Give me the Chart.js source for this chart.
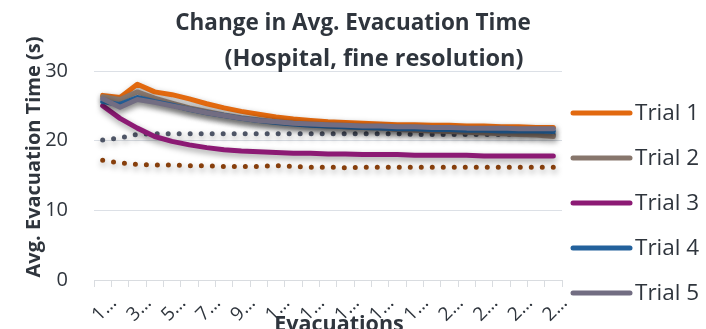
<!DOCTYPE html>
<html>
<head>
<meta charset="utf-8">
<script src="https://cdn.jsdelivr.net/npm/chart.js@4.4.1/dist/chart.umd.min.js"></script>
<style>
  html, body { margin: 0; padding: 0; background: #ffffff; }
  #wrap { width: 706px; height: 329px; position: relative; }
</style>
</head>
<body>
<div id="wrap"><canvas id="chart" width="706" height="329"></canvas></div>
<script>
// Evacuation number (x categories)
const categories = ['1','2','3','4','5','6','7','8','9','10','11','12','13','14',
                    '15','16','17','18','19','20','21','22','23','24','25','26','27'];

// Average evacuation time per evacuation, seconds
const trial1 = [26.5, 26.2, 28.1, 27.0, 26.6, 26.0, 25.3, 24.7, 24.2, 23.8, 23.4, 23.1, 22.9, 22.7,
                22.6, 22.5, 22.4, 22.3, 22.3, 22.2, 22.2, 22.1, 22.1, 22.0, 22.0, 21.9, 21.9];
const trial2 = [26.3, 25.9, 27.0, 26.1, 25.4, 24.7, 24.2, 23.7, 23.3, 23.0, 22.7, 22.5, 22.3, 22.1,
                22.0, 21.9, 21.8, 21.6, 21.5, 21.4, 21.3, 21.2, 21.1, 21.0, 20.9, 20.8, 20.6];
const trial3 = [25.0, 23.2, 21.8, 20.6, 19.9, 19.4, 19.0, 18.7, 18.5, 18.4, 18.3, 18.2, 18.2, 18.1,
                18.1, 18.0, 18.0, 18.0, 17.9, 17.9, 17.9, 17.9, 17.8, 17.8, 17.8, 17.8, 17.8];
const trial4 = [25.6, 25.2, 26.2, 25.6, 25.1, 24.5, 24.0, 23.6, 23.2, 22.9, 22.6, 22.4, 22.2, 22.1,
                22.0, 21.9, 21.8, 21.7, 21.7, 21.6, 21.6, 21.5, 21.5, 21.4, 21.4, 21.4, 21.3];
const trial5 = [26.0, 24.8, 25.9, 25.5, 25.0, 24.5, 24.0, 23.6, 23.2, 22.9, 22.7, 22.5, 22.4, 22.3,
                22.2, 22.1, 22.1, 22.0, 22.0, 21.9, 21.9, 21.8, 21.8, 21.8, 21.7, 21.7, 21.7];
const trial6 = [20.1, 20.4, 20.9, 21.0, 21.0, 21.0, 21.0, 21.0, 21.0, 21.0, 21.0, 21.0, 21.0, 21.0,
                21.0, 21.0, 21.0, 21.0, 20.9, 20.9, 20.9, 20.9, 20.9, 20.9, 20.9, 20.9, 20.9];
const trial7 = [17.2, 16.8, 16.6, 16.5, 16.5, 16.4, 16.4, 16.3, 16.3, 16.3, 16.4, 16.3, 16.2, 16.2,
                16.1, 16.2, 16.2, 16.2, 16.2, 16.2, 16.2, 16.2, 16.2, 16.2, 16.2, 16.2, 16.2];

// Y axis tick values
const yTicks = [0, 10, 20, 30];

const FONT = '"Open Sans", "Noto Sans", sans-serif';
const TEXT = '#2f353d';

function solid(label, data, color, order) {
  return { label, data, borderColor: color, backgroundColor: color, borderWidth: 5,
           pointRadius: 0, tension: 0, borderCapStyle: 'round', borderJoinStyle: 'round',
           order, inLegend: true };
}
function dotted(label, data, color, order) {
  return { label, data, borderColor: color, backgroundColor: color, borderWidth: 5,
           pointRadius: 0, tension: 0, borderCapStyle: 'round', borderDash: [0, 11],
           order, inLegend: false };
}

// soft drop shadow under every series
const shadowPlugin = {
  id: 'seriesShadow',
  beforeDatasetDraw(chart) {
    const ctx = chart.ctx;
    ctx.save();
    ctx.shadowColor = 'rgba(0,0,0,0.4)';
    ctx.shadowBlur = 6;
    ctx.shadowOffsetX = 1;
    ctx.shadowOffsetY = 3;
  },
  afterDatasetDraw(chart) {
    chart.ctx.restore();
  }
};

// title, axis titles and the legend column on the right
const decorPlugin = {
  id: 'decor',
  afterDraw(chart) {
    const ctx = chart.ctx;
    ctx.save();
    ctx.fillStyle = TEXT;
    ctx.textBaseline = 'alphabetic';
    ctx.textAlign = 'center';
    ctx.font = 'bold 22.5px ' + FONT;
    ctx.fillText('Change in Avg. Evacuation Time', 353, 30);
    ctx.font = 'bold 23.5px ' + FONT;
    ctx.fillText('(Hospital, fine resolution)', 374, 66);

    // x axis title
    ctx.font = 'bold 21.5px ' + FONT;
    ctx.fillText('Evacuations', 339, 331);

    // y axis title
    ctx.save();
    ctx.translate(40, 157);
    ctx.rotate(-Math.PI / 2);
    ctx.font = 'bold 20px ' + FONT;
    ctx.fillText('Avg. Evacuation Time (s)', 0, 0);
    ctx.restore();

    // legend
    const items = chart.data.datasets.filter(d => d.inLegend);
    ctx.textAlign = 'left';
    ctx.textBaseline = 'middle';
    ctx.font = '22.5px ' + FONT;
    items.forEach((d, i) => {
      const y = 113 + i * 45;
      ctx.strokeStyle = d.borderColor;
      ctx.lineWidth = 5;
      ctx.lineCap = 'round';
      ctx.beginPath();
      ctx.moveTo(573, y);
      ctx.lineTo(630, y);
      ctx.stroke();
      ctx.fillStyle = TEXT;
      ctx.fillText(d.label, 635, y + 1);
    });
    ctx.restore();
  }
};

new Chart(document.getElementById('chart'), {
  type: 'line',
  data: {
    labels: categories,
    datasets: [
      solid('Trial 1', trial1, '#E2690F', 5),
      solid('Trial 2', trial2, '#87766C', 4),
      solid('Trial 3', trial3, '#8C1A74', 3),
      solid('Trial 4', trial4, '#23619C', 2),
      solid('Trial 5', trial5, '#726D82', 1),
      dotted('Trial 6', trial6, '#4E5566', 6),
      dotted('Trial 7', trial7, '#873F0C', 7)
    ]
  },
  options: {
    responsive: false,
    animation: false,
    layout: { padding: { left: 0, top: 71, right: 144, bottom: 0 } },
    plugins: {
      legend: { display: false },
      title: { display: false },
      tooltip: { enabled: false }
    },
    scales: {
      x: {
        type: 'category',
        offset: true,
        grid: { offset: true, drawOnChartArea: false, drawTicks: true, tickLength: 7,
                color: '#D9DCE0', lineWidth: 1 },
        border: { display: true, color: '#D9DCE0', width: 1 },
        ticks: {
          autoSkip: false, minRotation: 45, maxRotation: 45, labelOffset: 11, padding: 5,
          color: TEXT, font: { family: FONT, size: 19 },
          callback(value, index) {
            return index % 2 === 0 ? this.getLabelForValue(value).charAt(0) + '…' : '';
          }
        },
        afterFit(scale) { scale.height = 49; scale.paddingLeft = 0; scale.paddingRight = 0; }
      },
      y: {
        min: yTicks[0],
        max: yTicks[yTicks.length - 1],
        afterBuildTicks(scale) { scale.ticks = yTicks.map(v => ({ value: v })); },
        grid: { color: '#DCE0E6', drawTicks: false, lineWidth: 1 },
        border: { display: false },
        ticks: { padding: 26, color: TEXT, font: { family: FONT, size: 20 } },
        afterFit(scale) { scale.width = 94; }
      }
    }
  },
  plugins: [shadowPlugin, decorPlugin]
});
</script>
</body>
</html>
